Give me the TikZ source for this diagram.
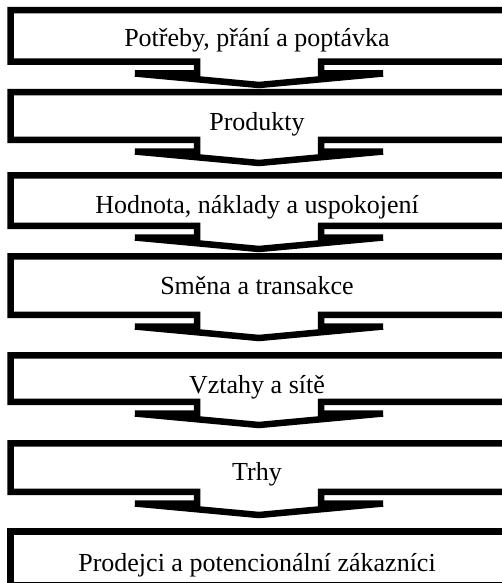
\documentclass[tikz,border=0pt]{standalone}
\usepackage{fontspec}
\setmainfont{Liberation Serif}
\tikzset{
  flowline/.style={draw=black, line width=6.5pt, line join=miter, miter limit=10},
  flowtext/.style={anchor=base, font=\fontsize{26}{31}\selectfont, inner sep=0pt}
}
\newcommand\flowboxarrow[2]{%
  \draw[flowline] (520,#1+3.25) -- (10.5,#1+3.25) -- (10.5,#2-3.25) -- (197,#2-3.25)
    -- (197,#2+8.5) -- (135,#2+8.5) -- (259,#2+20) -- (383,#2+8.5) -- (321,#2+8.5)
    -- (321,#2-3.25) -- (520,#2-3.25);}
\newcommand\flowboxplain[2]{%
  \draw[flowline] (520,#1+3.25) -- (10.5,#1+3.25) -- (10.5,#2-3.25) -- (520,#2-3.25);}
\begin{document}
\begin{tikzpicture}[x=1pt,y=-1pt]
\useasboundingbox (0,0) rectangle (502,583);
\fill[white] (0,0) rectangle (502,583);
\clip (0,0) rectangle (502,583);
\flowboxarrow{7}{65}
\flowboxarrow{89}{143}
\flowboxarrow{172}{229}
\flowboxarrow{253}{318}
\flowboxarrow{352}{405}
\flowboxarrow{440}{495}
\flowboxplain{528}{588.5}
\node[flowtext] (t1) at (257,47) {Potřeby, přání a poptávka};
\node[flowtext] (t2) at (257,131) {Produkty};
\node[flowtext] (t3) at (257,213) {Hodnota, náklady a uspokojení};
\node[flowtext] (t4) at (257,294) {Směna a transakce};
\node[flowtext] (t5) at (257,393) {Vztahy a sítě};
\node[flowtext] (t6) at (257,480) {Trhy};
\node[flowtext] (t7) at (257,571) {Prodejci a potencionální zákazníci};
\end{tikzpicture}
\end{document}
